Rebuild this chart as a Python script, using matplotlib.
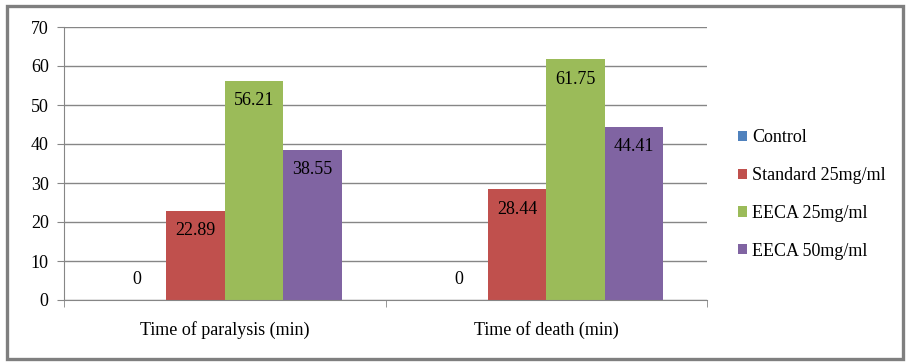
import matplotlib
matplotlib.use('Agg')
import matplotlib.pyplot as plt
from matplotlib.patches import Rectangle
import numpy as np

# data
categories = ['Time of paralysis (min)', 'Time of death (min)']
series_names = ['Control', 'Standard 25mg/ml', 'EECA 25mg/ml', 'EECA 50mg/ml']
control = [0, 0]
standard_25 = [22.89, 28.44]
eeca_25 = [56.21, 61.75]
eeca_50 = [38.55, 44.41]

colors = ['#4F81BD', '#C0504D', '#9BBB59', '#8064A2']
grid_color = '#868686'

plt.rcParams['font.family'] = ['Liberation Serif', 'DejaVu Serif']

fig = plt.figure(figsize=(9.08, 3.63), dpi=100)
ax = fig.add_axes([64 / 908, 1 - 300 / 363, (707 - 64) / 908, (300 - 27) / 363])

# outer chart frame
fig.patches.append(Rectangle((7 / 908, 1 - 359 / 363), 896 / 908, 353 / 363,
                             transform=fig.transFigure, fill=False,
                             edgecolor='#7f7f7f', linewidth=2.4))

x = np.arange(len(categories))
width = 0.182
all_series = [control, standard_25, eeca_25, eeca_50]

handles = []
for i, (vals, name, col) in enumerate(zip(all_series, series_names, colors)):
    offset = (i - 1.5) * width
    bars = ax.bar(x + offset, vals, width, color=col, label=name, zorder=3)
    handles.append(bars)
    for xi, v in zip(x + offset, vals):
        dy = 14.4 if v == 0 else -14.4
        label = '0' if v == 0 else f'{v:.2f}'
        ax.annotate(label, (xi, v), xytext=(0, dy), textcoords='offset points',
                    ha='center', va='center', fontsize=13, zorder=4)

ax.set_xlim(-0.5, 1.5)
ax.set_ylim(0, 70)
ax.set_yticks(range(0, 71, 10))
ax.tick_params(axis='y', labelsize=13, length=5, color=grid_color, pad=6)
ax.set_xticks(x)
ax.set_xticklabels(categories)
ax.tick_params(axis='x', labelsize=13, length=0, pad=15)
ax.set_xticks([-0.5, 0.5, 1.5], minor=True)
ax.tick_params(axis='x', which='minor', length=5, color=grid_color)

ax.yaxis.grid(True, color=grid_color, linewidth=1, zorder=0)
ax.set_axisbelow(True)
for side in ['top', 'right']:
    ax.spines[side].set_visible(False)
for side in ['left', 'bottom']:
    ax.spines[side].set_color(grid_color)
    ax.spines[side].set_zorder(5)

fig.legend(handles=handles, labels=series_names, loc='center left',
           bbox_to_anchor=(738 / 908, 1 - 194.5 / 363), frameon=False, fontsize=13,
           borderpad=0, borderaxespad=0,
           handlelength=0.5, handleheight=0.5, handletextpad=0.3,
           labelspacing=1.15)

fig.savefig('out.png', dpi=100)
